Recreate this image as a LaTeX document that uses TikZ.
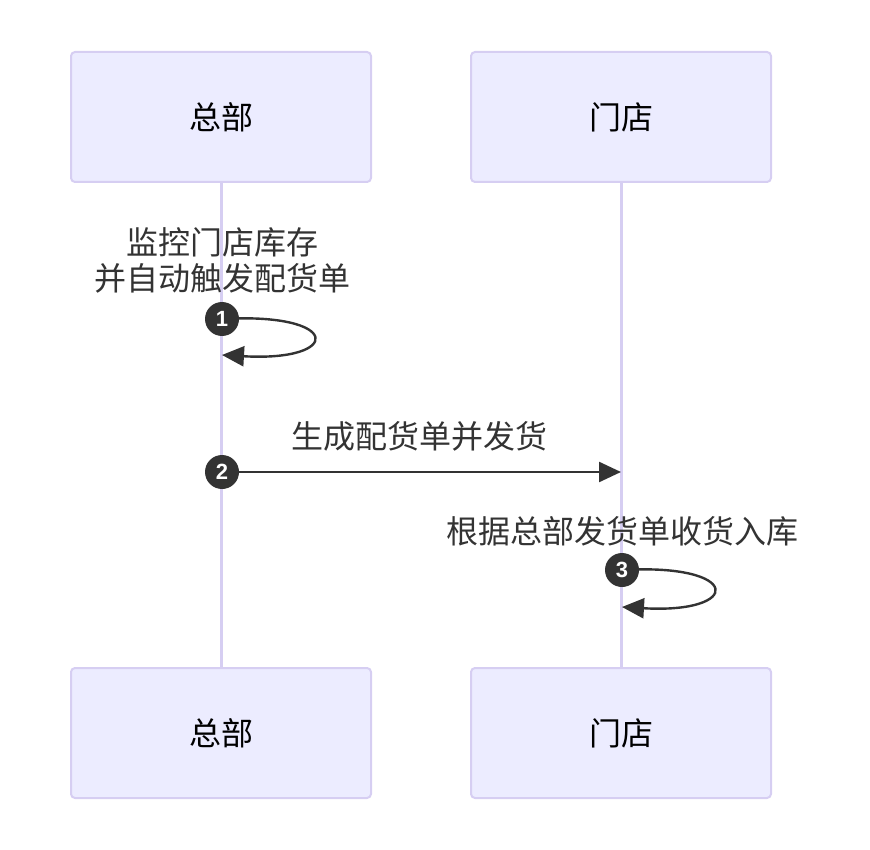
\documentclass[tikz,border=0pt]{standalone}
\usepackage{fontspec}
\newfontfamily\cjk{Noto Sans CJK SC}
\newfontfamily\numfont{Liberation Sans}
\usetikzlibrary{arrows.meta,positioning}
\definecolor{actorfill}{HTML}{ECECFF}
\definecolor{actorline}{HTML}{D6CEF2}
\definecolor{msgcol}{HTML}{333333}

\begin{document}
\begin{tikzpicture}[x=1pt, y=-1pt,
		actor/.style={rectangle, rounded corners=4pt, draw=actorline, line width=2pt, fill=actorfill, minimum width=300pt, minimum height=130pt, font=\cjk\fontsize{32}{36}\selectfont},
		lifeline/.style={draw=actorline, line width=3pt},
		num/.style={circle, fill=msgcol, inner sep=0pt, minimum size=34pt, text=white, font=\numfont\bfseries\fontsize{22}{22}\selectfont},
		msg/.style={draw=msgcol, line width=2.4pt, -{Triangle[length=22pt, width=20pt]}},
		lbl/.style={align=center, text=msgcol, font=\cjk\fontsize{32}{36}\selectfont}]
		\useasboundingbox (0,0) rectangle (870,850);

		\node[actor] (HQ) at (221,117) {总部};
		\node[actor] (Shop) at (621,117) {门店};
		\node[actor] (HQ_bot) at (221,733) {总部};
		\node[actor] (Shop_bot) at (621,733) {门店};

		\path[lifeline] (HQ) -- (HQ_bot);
		\path[lifeline] (Shop) -- (Shop_bot);

		% 1: self message at HQ
		\node[lbl] (L1) at (222,260) {监控门店库存\\并自动触发配货单};
		\coordinate (S1) at (222,319);
		\coordinate (E1) at (222,355);
		\draw[msg] (S1) .. controls (343,312) and (343,362) .. (E1);
		\node[num] (N1) at (S1) {1};

		% 2: HQ to shop
		\node[lbl] (L2) at (419,436) {生成配货单并发货};
		\coordinate (S2) at (222,472);
		\coordinate (E2) at (621,472);
		\draw[msg] (S2) -- (E2);
		\node[num] (N2) at (S2) {2};

		% 3: self message at shop
		\node[lbl] (L3) at (622,531) {根据总部发货单收货入库};
		\coordinate (S3) at (622,570);
		\coordinate (E3) at (622,607);
		\draw[msg] (S3) .. controls (743,563) and (743,614) .. (E3);
		\node[num] (N3) at (S3) {3};
	\end{tikzpicture}
\end{document}
